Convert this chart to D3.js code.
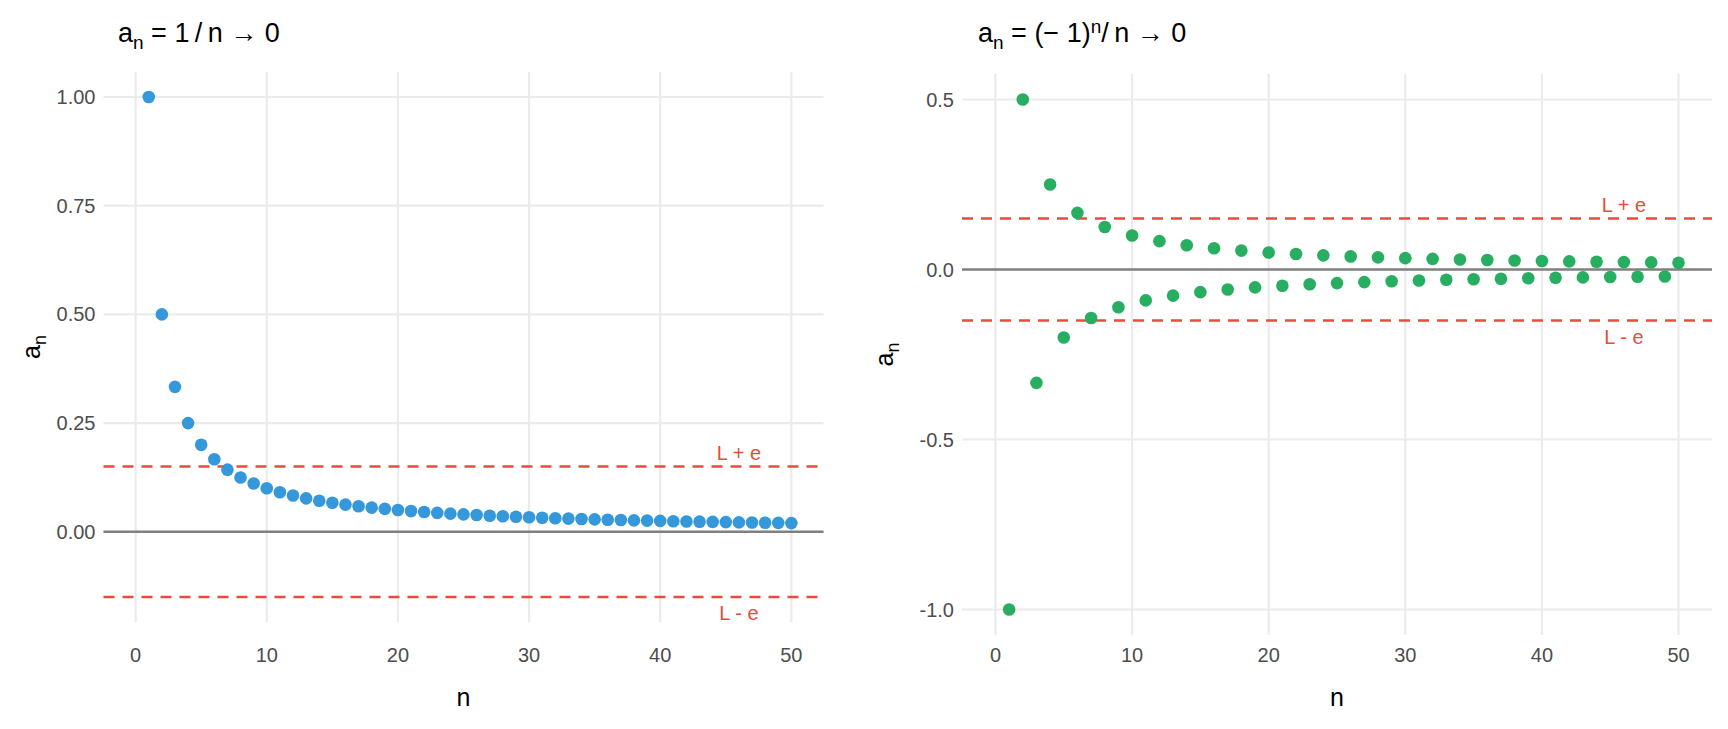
<!DOCTYPE html>
<html><head><meta charset="utf-8">
<script src="https://cdn.jsdelivr.net/npm/d3@7"></script>
<style>body{margin:0;background:#fff;font-family:"Liberation Sans",Arial,sans-serif}</style>
</head><body><svg id="chart" width="1728" height="729"></svg>
<script>
// sequence values
var nValues = d3.range(1, 51);
var seqA = nValues.map(function(n){ return 1 / n; });
var seqB = nValues.map(function(n){ return Math.pow(-1, n) / n; });
var epsilon = 0.15;
var leftTicksY = [0, 0.25, 0.5, 0.75, 1];
var rightTicksY = [-1, -0.5, 0, 0.5];
var ticksX = [0, 10, 20, 30, 40, 50];

var svg = d3.select("#chart");

function panel(opt) {
  var g = svg.append("g");
  var x = d3.scaleLinear().domain([-2.45, 52.45]).range([opt.x0, opt.x1]);
  var y = d3.scaleLinear().domain(opt.ydom).range([opt.y1, opt.y0]);

  g.selectAll(".gx").data(ticksX).enter().append("line")
    .attr("x1", d => x(d)).attr("x2", d => x(d))
    .attr("y1", opt.y0).attr("y2", opt.y1)
    .attr("stroke", "#ebebeb").attr("stroke-width", 2.2);
  g.selectAll(".gy").data(opt.yticks).enter().append("line")
    .attr("x1", opt.x0).attr("x2", opt.x1)
    .attr("y1", d => y(d)).attr("y2", d => y(d))
    .attr("stroke", "#ebebeb").attr("stroke-width", 2.2);

  g.selectAll(".tx").data(ticksX).enter().append("text")
    .attr("x", d => x(d)).attr("y", 662)
    .attr("text-anchor", "middle").attr("font-size", 20).attr("fill", "#4d4d4d")
    .text(d => d);
  g.selectAll(".ty").data(opt.yticks).enter().append("text")
    .attr("x", opt.x0 - 8).attr("y", d => y(d) + 7)
    .attr("text-anchor", "end").attr("font-size", 20).attr("fill", "#4d4d4d")
    .text(opt.fmt);

  g.append("line").attr("x1", opt.x0).attr("x2", opt.x1)
    .attr("y1", y(0)).attr("y2", y(0)).attr("stroke", "#808080").attr("stroke-width", 2.5);
  [epsilon, -epsilon].forEach(function(v){
    g.append("line").attr("x1", opt.x0).attr("x2", opt.x1)
      .attr("y1", y(v)).attr("y2", y(v)).attr("stroke", "#e74c3c")
      .attr("stroke-width", 2.5).attr("stroke-dasharray", "11,8");
  });
  g.append("text").attr("x", x(46)).attr("y", y(epsilon) - 7).attr("text-anchor", "middle")
    .attr("font-size", 20).attr("fill", "#e74c3c").text("L + e");
  g.append("text").attr("x", x(46)).attr("y", y(-epsilon) + 23).attr("text-anchor", "middle")
    .attr("font-size", 20).attr("fill", "#e74c3c").text("L - e");

  g.selectAll(".pt").data(opt.vals).enter().append("circle")
    .attr("cx", (d, i) => x(nValues[i])).attr("cy", d => y(d))
    .attr("r", 6.3).attr("fill", opt.color);

  var t = g.append("text").attr("x", opt.tx).attr("y", 42).attr("font-size", 27).attr("fill", "#000");
  opt.title(t);

  g.append("text").attr("x", (opt.x0 + opt.x1) / 2).attr("y", 706).attr("text-anchor", "middle")
    .attr("font-size", 25).text("n");
  var yl = g.append("text").attr("transform", "translate(" + opt.ylx + "," + ((opt.y0 + opt.y1) / 2) + ") rotate(-90)")
    .attr("text-anchor", "middle").attr("font-size", 25);
  yl.append("tspan").text("a");
  yl.append("tspan").attr("font-size", 18).attr("dy", 6).text("n");
}

panel({
  x0: 103.5, x1: 823.5, y0: 72, y1: 622, ydom: [-0.2075, 1.0575], yticks: leftTicksY,
  tx: 118, ylx: 40,
  fmt: d => d.toFixed(2), vals: seqA, color: "#3498db",
  title: function(t){
    t.append("tspan").text("a");
    t.append("tspan").attr("font-size", 19).attr("dy", 7).text("n");
    t.append("tspan").attr("dy", -7).text(" = 1\u2009/\u2009n \u2192 0");
  }
});
panel({
  x0: 962, x1: 1712, y0: 74, y1: 635, ydom: [-1.075, 0.575], yticks: rightTicksY,
  tx: 978, ylx: 893,
  fmt: d => d.toFixed(1), vals: seqB, color: "#27ae60",
  title: function(t){
    t.append("tspan").text("a");
    t.append("tspan").attr("font-size", 19).attr("dy", 7).text("n");
    t.append("tspan").attr("dy", -7).text(" = (\u2212 1)");
    t.append("tspan").attr("font-size", 19).attr("dy", -9).text("n");
    t.append("tspan").attr("dy", 9).text("/\u2009n \u2192 0");
  }
});
</script></body></html>
